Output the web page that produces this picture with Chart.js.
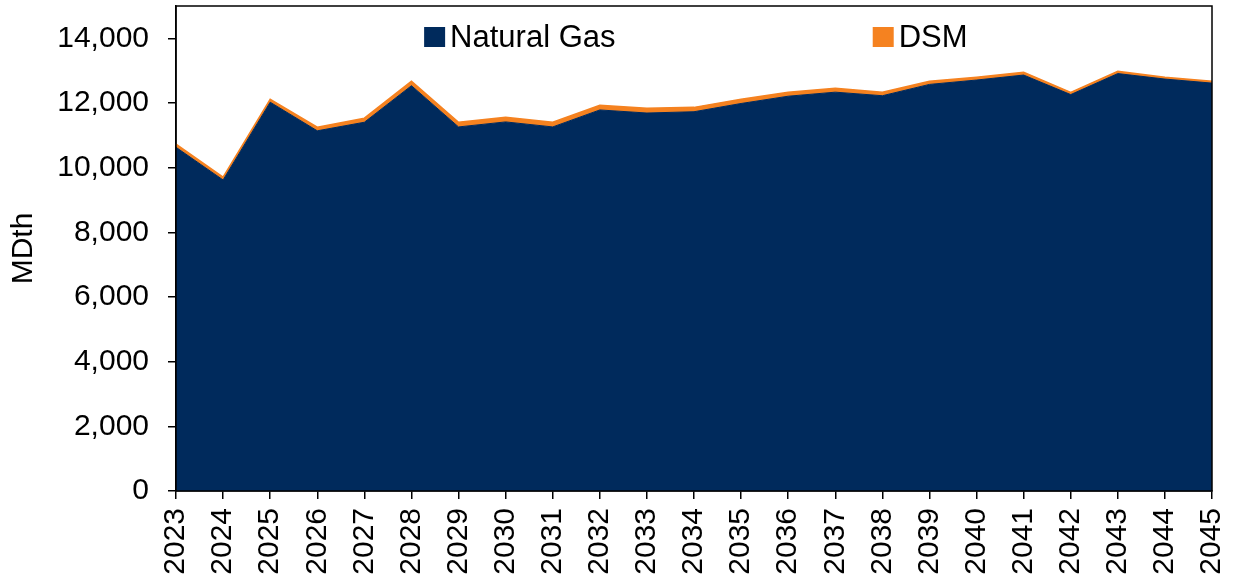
<!DOCTYPE html>
<html>
<head>
<meta charset="utf-8">
<script src="https://cdn.jsdelivr.net/npm/chart.js@4/dist/chart.umd.min.js"></script>
<style>
  html, body { margin: 0; padding: 0; background: #fff; }
  #wrap { width: 1234px; height: 584px; }
</style>
</head>
<body>
<div id="wrap"><canvas id="myChart" width="1234" height="584"></canvas></div>
<script>
  // Dados do gráfico
  const years = ['2023', '2024', '2025', '2026', '2027', '2028', '2029', '2030', '2031', '2032', '2033', '2034',
                 '2035', '2036', '2037', '2038', '2039', '2040', '2041', '2042', '2043', '2044', '2045'];
  const naturalGas = [10630, 9620, 12025, 11140, 11405, 12535, 11260, 11415, 11260, 11785, 11690, 11730,
                      11985, 12210, 12335, 12225, 12575, 12710, 12865, 12260, 12910, 12740, 12615];
  const dsm = [95, 85, 90, 110, 125, 135, 145, 145, 145, 145, 145, 135,
               130, 120, 120, 105, 95, 85, 85, 70, 70, 55, 55];
  const yTickValues = [0, 2000, 4000, 6000, 8000, 10000, 12000, 14000];

  const navy = '#002A5C';
  const orange = '#F58220';
  const fontFamily = '"Liberation Sans", Arial, sans-serif';

  // legenda dentro da área do gráfico
  const legendInside = {
    id: 'legendInside',
    afterDraw(chart) {
      const { ctx, chartArea } = chart;
      const w = chartArea.right - chartArea.left;
      const items = [
        { text: 'Natural Gas', color: navy, at: 0.2395 },
        { text: 'DSM', color: orange, at: 0.6725 }
      ];
      ctx.save();
      ctx.font = '31px ' + fontFamily;
      ctx.textBaseline = 'middle';
      items.forEach(it => {
        const x = chartArea.left + w * it.at;
        ctx.fillStyle = it.color;
        ctx.fillRect(x, chartArea.top + 21, 21, 20);
        ctx.fillStyle = '#000';
        ctx.fillText(it.text, x + 26, chartArea.top + 32);
      });
      ctx.restore();
    }
  };

  // moldura da área de plotagem
  const frame = {
    id: 'frame',
    afterDatasetsDraw(chart) {
      const { ctx, chartArea } = chart;
      ctx.save();
      ctx.strokeStyle = '#000';
      ctx.lineWidth = 1.5;
      ctx.strokeRect(chartArea.left, chartArea.top, chartArea.right - chartArea.left, chartArea.bottom - chartArea.top);
      ctx.restore();
    }
  };

  const data = {
    labels: years,
    datasets: [{
      label: 'Natural Gas',
      data: naturalGas,
      fill: 'origin',
      backgroundColor: navy,
      borderColor: navy,
      borderWidth: 1,
      pointRadius: 0,
      tension: 0
    }, {
      label: 'DSM',
      data: dsm,
      fill: '-1',
      backgroundColor: orange,
      borderColor: orange,
      borderWidth: 1.5,
      pointRadius: 0,
      tension: 0
    }]
  };

  const config = {
    type: 'line',
    data: data,
    options: {
      responsive: false,
      animation: false,
      events: [],
      layout: { padding: { top: 6, right: 22, left: 0, bottom: 0 } },
      plugins: {
        legend: { display: false },
        tooltip: { enabled: false }
      },
      scales: {
        x: {
          offset: false,
          grid: { display: true, drawOnChartArea: false, drawTicks: true, tickLength: 8, color: '#000', lineWidth: 1.5 },
          border: { display: true, color: '#000', width: 1.5 },
          ticks: {
            autoSkip: false,
            maxRotation: 90,
            minRotation: 90,
            padding: 9,
            color: '#000',
            font: { family: fontFamily, size: 30 }
          },
          afterFit(scale) {
            scale.height = 93;
            scale.paddingLeft = 0;
            scale.paddingRight = 0;
          }
        },
        y: {
          stacked: true,
          min: 0,
          max: 15000,
          grid: { display: true, drawOnChartArea: false, drawTicks: true, tickLength: 8, color: '#000', lineWidth: 1.5 },
          border: { display: true, color: '#000', width: 1.5 },
          afterBuildTicks(scale) { scale.ticks = yTickValues.map(v => ({ value: v })); },
          ticks: {
            padding: 19,
            color: '#000',
            font: { family: fontFamily, size: 30 },
            callback: v => v.toLocaleString('en-US')
          },
          title: {
            display: true,
            text: 'MDth',
            color: '#000',
            font: { family: fontFamily, size: 30 },
            padding: { top: 6, bottom: 0 }
          },
          afterFit(scale) {
            scale.width = 176;
            scale.paddingTop = 0;
            scale.paddingBottom = 0;
          }
        }
      }
    },
    plugins: [legendInside, frame]
  };

  var myChart = new Chart(document.getElementById('myChart'), config);
</script>
</body>
</html>
